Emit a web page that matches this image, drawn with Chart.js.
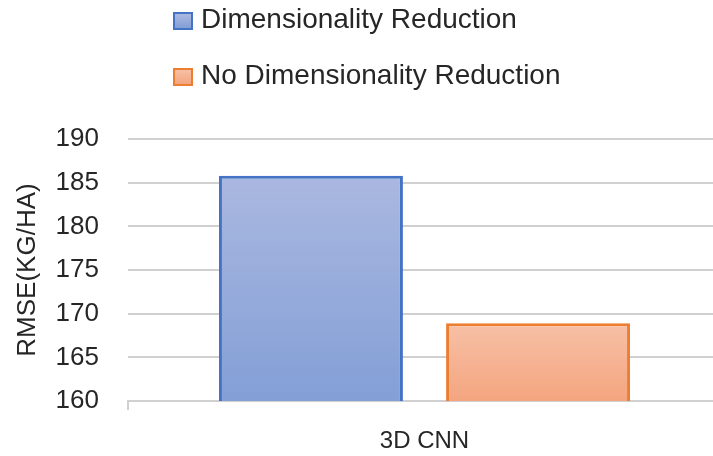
<!DOCTYPE html>
<html>
<head>
<meta charset="utf-8">
<script src="https://cdn.jsdelivr.net/npm/chart.js@4/dist/chart.umd.min.js"></script>
<style>
  html, body { margin: 0; padding: 0; background: #fff; overflow: hidden; }
  .wrap { position: relative; width: 713px; height: 456px; overflow: hidden; }
  #legend { position: absolute; left: 173px; top: 0; font-family: "Liberation Sans", Arial, sans-serif; color: #262626; }
  .item { position: absolute; left: 0; white-space: nowrap; font-size: 28px; line-height: 28px; }
  .box { position: absolute; left: 0; top: 7px; width: 16px; height: 14px; border: 2px solid; }
  .item span.label { position: absolute; left: 28px; top: 0; }
</style>
</head>
<body>
<div class="wrap">
  <canvas id="rmse" width="722" height="456"></canvas>
  <div id="legend"></div>
</div>
<script>
const categories = ["3D CNN"];
const seriesNames = ["Dimensionality Reduction", "No Dimensionality Reduction"];
const withReduction = [185.8];
const withoutReduction = [168.9];
const yTicks = [160, 165, 170, 175, 180, 185, 190];

const FONT = "'Liberation Sans', Arial, sans-serif";
const TEXT = "#262626";
const GRID = "#d0d0d0";

// vertical fill per bar, lighter at the top
function barFill(topColor, bottomColor) {
  return (ctx) => {
    const chart = ctx.chart;
    if (ctx.type !== "data" || !chart.chartArea) return bottomColor;
    const y = chart.scales.y;
    const top = y.getPixelForValue(ctx.raw);
    const g = chart.ctx.createLinearGradient(0, top, 0, chart.chartArea.bottom);
    g.addColorStop(0, topColor);
    g.addColorStop(1, bottomColor);
    return g;
  };
}

const chart = new Chart(document.getElementById("rmse"), {
  type: "bar",
  data: {
    labels: categories,
    datasets: [
      {
        label: seriesNames[0],
        data: withReduction,
        backgroundColor: barFill("#aab8e0", "#839fd6"),
        borderColor: "#4472c4",
        borderWidth: 3,
        categoryPercentage: 0.766,
        barPercentage: 0.81,
      },
      {
        label: seriesNames[1],
        data: withoutReduction,
        backgroundColor: barFill("#f7c0a6", "#f4a57f"),
        borderColor: "#ed7d31",
        borderWidth: 3,
        categoryPercentage: 0.766,
        barPercentage: 0.81,
      },
    ],
  },
  options: {
    responsive: false,
    animation: false,
    devicePixelRatio: 1,
    layout: { padding: { top: 139, right: 1, left: 0, bottom: 0 } },
    plugins: {
      legend: { display: false },
      tooltip: { enabled: false },
    },
    scales: {
      x: {
        grid: {
          offset: true,
          drawOnChartArea: false,
          tickLength: 9,
          color: GRID,
          lineWidth: 2,
        },
        border: { display: true, color: GRID, width: 2 },
        ticks: {
          font: { family: FONT, size: 24 },
          color: TEXT,
          padding: 17,
        },
        afterFit: (scale) => { scale.height = 55; },
      },
      y: {
        min: yTicks[0],
        max: yTicks[yTicks.length - 1],
        afterBuildTicks: (scale) => { scale.ticks = yTicks.map((v) => ({ value: v })); },
        grid: { color: GRID, lineWidth: 2, drawTicks: false },
        border: { display: false },
        ticks: {
          font: { family: FONT, size: 26 },
          color: TEXT,
          padding: 29,
        },
        title: {
          display: true,
          text: "RMSE(KG/HA)",
          font: { family: FONT, size: 26 },
          color: TEXT,
          padding: { top: 12, bottom: 0 },
        },
        afterFit: (scale) => { scale.width = 128; },
      },
    },
  },
});

// stacked legend above the plot
const legend = document.getElementById("legend");
const rowTops = [5, 61];
const legendFills = [
  "linear-gradient(#aab8e0, #839fd6)",
  "linear-gradient(#f7c0a6, #f4a57f)",
];
chart.data.datasets.forEach((ds, i) => {
  const item = document.createElement("div");
  item.className = "item";
  item.style.top = rowTops[i] + "px";
  const box = document.createElement("span");
  box.className = "box";
  box.style.borderColor = ds.borderColor;
  box.style.background = legendFills[i];
  const label = document.createElement("span");
  label.className = "label";
  label.textContent = ds.label;
  item.appendChild(box);
  item.appendChild(label);
  legend.appendChild(item);
});
</script>
</body>
</html>
